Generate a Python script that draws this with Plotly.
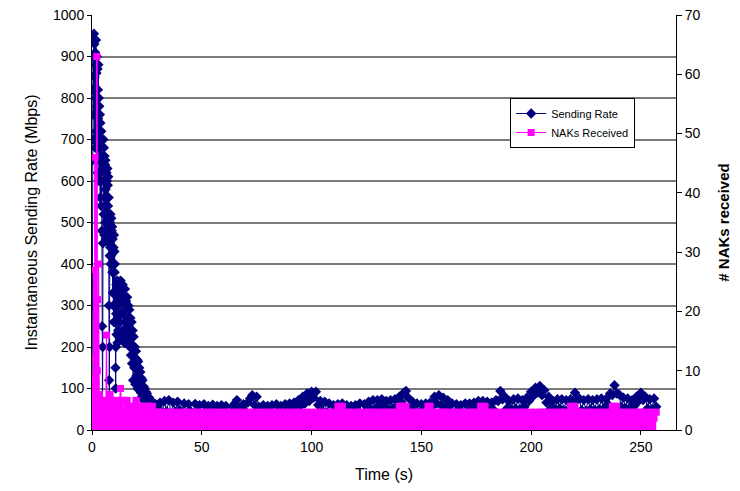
import plotly.graph_objects as go

# ---------------- data ----------------
# Sending rate: first 12 s at 0.1 s, 12-30 s at 0.25 s, then 1 s
rate_time_early = ([round(i * 0.1, 1) for i in range(0, 120)] +
                   [12 + i * 0.25 for i in range(0, 73)])

rate_early = [10, 300, 650, 820, 700, 900, 760, 940, 820, 955,
              700, 930, 850, 760, 910, 680, 880, 800, 940, 720,
              860, 650, 900, 780, 700, 870, 620, 820, 750, 880,
              680, 800, 600, 780, 720, 650, 760, 560, 740, 620,
              700, 540, 720, 600, 660, 480, 250, 60, 30, 200,
              450, 650, 700, 520, 680, 600, 470, 660, 560, 640,
              500, 650, 580, 460, 630, 540, 620, 480, 600, 520,
              630, 460, 590, 540, 610, 450, 560, 300, 120, 70,
              200, 420, 500, 440, 520, 400, 490, 420, 510, 400,
              480, 400, 490, 380, 460, 330, 470, 300, 440, 260,
              470, 300, 430, 380, 400, 260, 330, 150, 100, 200,
              280, 350, 230, 330, 260, 360, 210, 310, 350, 240,
              340, 230, 320, 260,
              360, 220, 340, 280,
              350, 240, 320, 210,
              340, 260, 310, 230,
              320, 220, 300, 250,
              290, 200, 270, 180,
              260, 160, 240, 120,
              225, 150, 200, 110,
              190, 130, 170, 100,
              165, 110, 150, 95,
              140, 90, 125, 80,
              120, 80, 105, 70,
              100, 70, 92, 62,
              88, 60, 80, 55,
              78, 55, 72, 50,
              70, 50, 66, 48,
              65, 46, 62, 45,
              62, 44, 60, 42,
              58]

late_time = list(range(31, 258))

rate_late = [66, 42, 70, 45, 72, 40, 66, 44, 68, 48,
             42, 64, 40, 62, 45, 38, 63, 42, 60, 38,
             62, 40, 58, 37, 61, 42, 58, 38, 60, 41,
             58, 38, 20, 56, 64, 72, 50, 42, 62, 44,
             66, 76, 84, 60, 80, 56, 48, 60, 40, 58,
             42, 60, 40, 62, 42, 58, 38, 62, 45, 64,
             48, 66, 54, 72, 58, 80, 64, 88, 70, 92,
             78, 92, 60, 70, 46, 68, 42, 64, 40, 60,
             42, 62, 40, 64, 44, 60, 38, 58, 42, 60,
             44, 64, 22, 62, 46, 68, 50, 72, 52, 72,
             54, 74, 56, 70, 50, 72, 52, 74, 58, 80,
             68, 90, 94, 78, 56, 68, 44, 64, 42, 62,
             46, 64, 44, 66, 58, 80, 64, 84, 60, 78,
             56, 72, 44, 64, 40, 62, 42, 60, 40, 64,
             44, 64, 46, 66, 50, 70, 48, 70, 52, 68,
             46, 66, 48, 72, 70, 94, 74, 80, 52, 70,
             50, 74, 52, 76, 50, 72, 56, 78, 70, 92,
             82, 102, 90, 106, 84, 96, 66, 80, 52, 70,
             50, 74, 52, 74, 48, 72, 50, 74, 70, 90,
             72, 76, 48, 72, 46, 74, 50, 72, 48, 74,
             50, 76, 52, 74, 62, 88, 84, 108, 88, 86,
             56, 78, 52, 76, 54, 72, 58, 80, 70, 90,
             72, 80, 52, 74, 50, 76, 56]

# NAKs received
nak_time_early = [0.0, 0.2, 0.4, 0.6, 0.8, 1.0, 1.2, 1.4, 1.6, 1.8, 2.0, 2.2, 2.4, 2.6, 2.8,
                  3.0, 3.2, 3.4, 3.6, 3.8, 4.0, 4.2, 4.4, 4.6, 4.8, 5.0, 5.2, 5.4, 5.6, 5.8,
                  6.0, 6.2, 6.4, 6.6, 6.8, 7.0, 7.2, 7.4, 7.6, 7.8, 8.0, 8.2, 8.4, 8.6, 8.8,
                  9.0, 9.2, 9.4, 9.6, 9.8, 10.0, 10.2, 10.4, 10.6, 10.8, 11.0, 11.5, 12.0,
                  12.5, 13.0, 13.5, 14.0, 14.5, 15.0, 15.5, 16.0, 16.5, 17.0, 17.5, 18.0,
                  18.5, 19.0, 19.5, 20.0, 20.5, 21.0, 21.5, 22.0, 22.5, 23.0, 23.5, 24.0,
                  24.5, 25.0, 25.5, 26.0, 26.5, 27.0, 27.5, 28.0, 28.5, 29.0, 29.5, 30.0]

naks_early = [3, 6, 9, 2, 27, 4, 12, 46, 5, 8, 3, 63, 10, 22, 4,
              28, 3, 6, 2, 5, 1, 4, 2, 3, 2, 4, 2, 5, 3, 4,
              3, 4, 2, 16, 3, 2, 4, 5, 3, 4, 3, 6, 2, 4, 5,
              2, 4, 5, 3, 4, 3, 4, 2, 4, 3, 2, 5, 3,
              4, 7, 3, 5, 2, 5, 3, 5, 2, 4, 3, 4,
              2, 4, 3, 5, 2, 4, 3, 4, 2, 4, 3, 4,
              2, 4, 3, 4, 2, 3, 4, 2, 3, 3, 2, 3]

naks_late = [3, 2, 3, 2, 3, 3, 2, 3, 2, 3,
             2, 3, 3, 2, 3, 2, 3, 3, 2, 3,
             2, 3, 2, 3, 3, 2, 3, 2, 3, 2,
             3, 3, 2, 3, 2, 3, 3, 2, 3, 2,
             3, 2, 3, 3, 2, 3, 2, 3, 2, 3,
             3, 2, 3, 2, 3, 3, 2, 3, 2, 3,
             2, 3, 3, 2, 3, 2, 3, 3, 2, 3,
             2, 3, 2, 3, 3, 2, 3, 2, 3, 3,
             2, 4, 4, 4, 3, 2, 3, 2, 3, 2,
             3, 3, 2, 3, 2, 3, 3, 3, 2, 3,
             2, 3, 3, 2, 3, 2, 3, 2, 3, 4,
             4, 4, 4, 3, 2, 3, 2, 3, 3, 2,
             3, 2, 4, 4, 3, 2, 3, 3, 3, 3,
             3, 3, 2, 3, 2, 3, 3, 2, 3, 2,
             3, 2, 3, 3, 2, 3, 4, 4, 4, 3,
             2, 3, 2, 3, 3, 2, 3, 2, 3, 2,
             3, 3, 2, 3, 2, 3, 3, 3, 2, 3,
             2, 3, 2, 3, 3, 3, 3, 2, 3, 2,
             3, 2, 3, 3, 2, 3, 2, 4, 4, 4,
             3, 3, 3, 2, 3, 2, 3, 3, 2, 3,
             2, 3, 3, 2, 3, 2, 4, 4, 4, 3,
             2, 3, 2, 3, 3, 2, 3, 3, 3, 3,
             3, 2, 3, 2, 3, 2, 3]

rate_time = rate_time_early + late_time
sending_rate = rate_early + rate_late
nak_time = nak_time_early + late_time
naks_received = naks_early + naks_late

x_ticks = [0, 50, 100, 150, 200, 250]

# ---------------- figure ----------------
NAVY = "#000080"
PINK = "#FF00FF"
FONT = "Liberation Sans, Arial, sans-serif"

fig = go.Figure()
fig.add_trace(go.Scatter(
    x=rate_time, y=sending_rate, name="Sending Rate", mode="lines+markers",
    line=dict(color=NAVY, width=1),
    marker=dict(symbol="diamond", size=8, color=NAVY),
    yaxis="y"))
fig.add_trace(go.Scatter(
    x=nak_time, y=naks_received, mode="lines", fill="tozeroy",
    fillcolor=PINK, line=dict(color=PINK, width=1),
    showlegend=False, hoverinfo="skip", yaxis="y2"))
fig.add_trace(go.Scatter(
    x=nak_time, y=naks_received, name="NAKs Received", mode="lines+markers",
    line=dict(color=PINK, width=1),
    marker=dict(symbol="square", size=7, color=PINK),
    yaxis="y2"))

# page body has an 8px margin, so the figure is 16px smaller than the window
fig.update_layout(
    width=724, height=475,
    margin=dict(l=84, r=56, t=7, b=53),
    paper_bgcolor="white", plot_bgcolor="white",
    font=dict(family=FONT, size=14, color="black"),
    showlegend=True,
    legend=dict(x=0.716, y=0.8, xanchor="left", yanchor="top",
                bgcolor="white", bordercolor="black", borderwidth=1,
                font=dict(size=11, family=FONT), tracegroupgap=0,
                itemwidth=30),
    xaxis=dict(range=[0, 266], tickvals=x_ticks, showgrid=False,
               showline=True, linecolor="black", linewidth=1,
               ticks="outside", ticklen=4, tickcolor="black",
               zeroline=False, automargin=False,
               title=dict(text="Time (s)", font=dict(size=16), standoff=31)),
    yaxis=dict(range=[0, 1000], dtick=100, showgrid=True,
               gridcolor="#7a7a7a", gridwidth=1.5,
               showline=True, linecolor="black", linewidth=1,
               ticks="outside", ticklen=4, tickcolor="black",
               zeroline=False, automargin=False, ticklabeloverflow="allow",
               title=dict(text="Instantaneous Sending Rate (Mbps)",
                          font=dict(size=16), standoff=11)),
    yaxis2=dict(range=[0, 70], dtick=10, overlaying="y", side="right",
                showgrid=False, showline=True, linecolor="black", linewidth=1,
                ticks="outside", ticklen=5, tickcolor="black",
                zeroline=False, automargin=False, ticklabeloverflow="allow",
                title=dict(text="<b># NAKs received</b>",
                           font=dict(size=15), standoff=18)),
)

fig.write_html("out.html")
